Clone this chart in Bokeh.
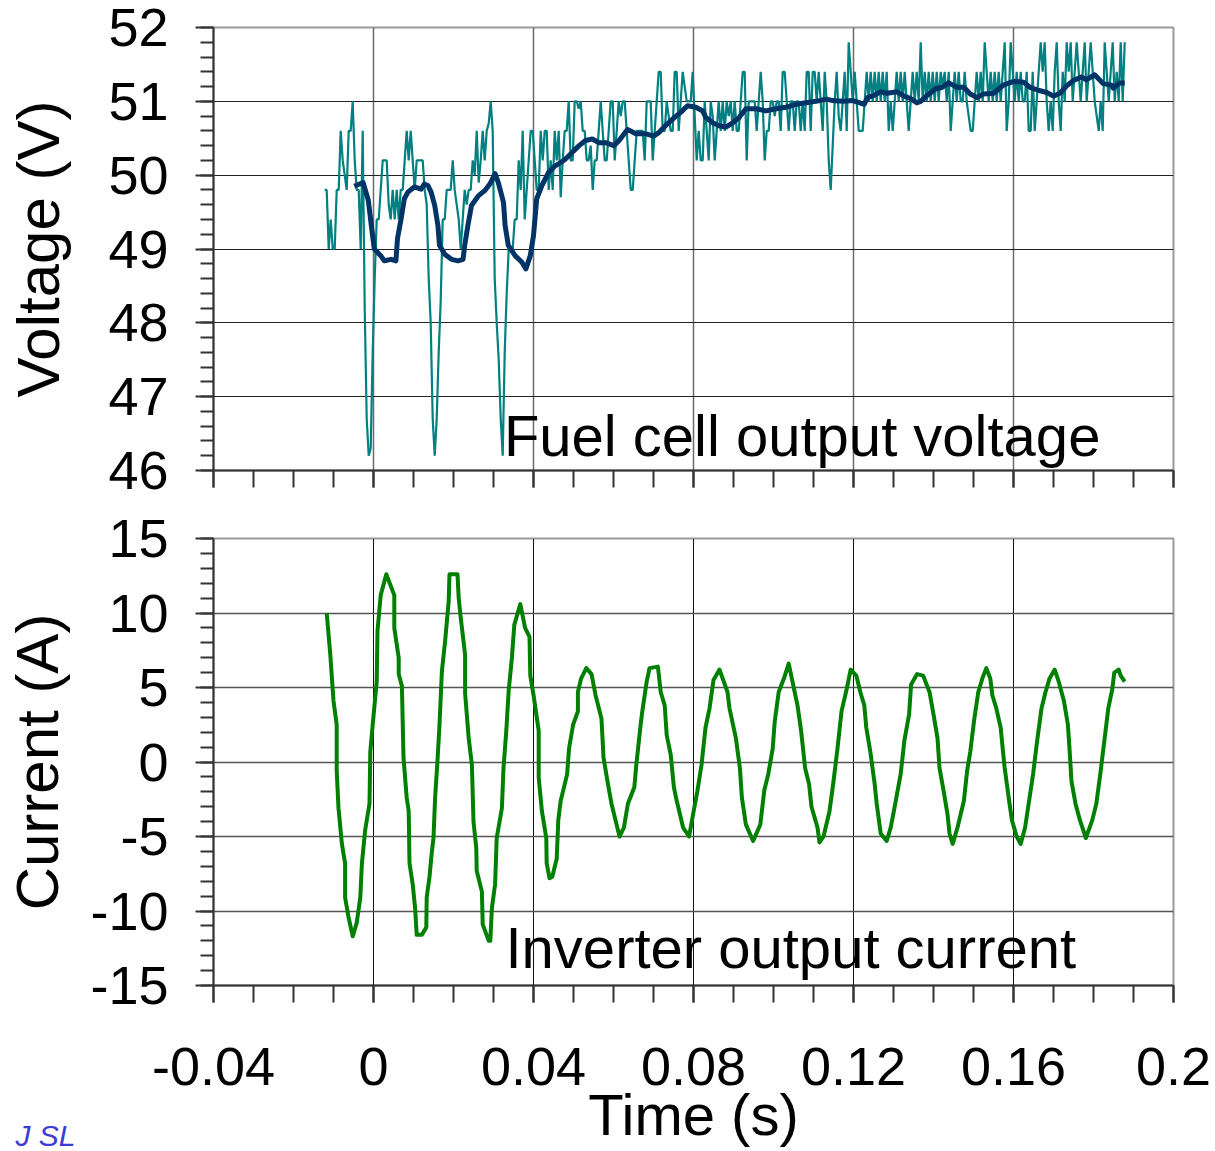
from bokeh.plotting import figure
from bokeh.layouts import column
from bokeh.models import FixedTicker, Label, Title
from bokeh.embed import file_html
from bokeh.resources import INLINE

# ---------------- data ----------------
# Fuel cell output voltage, raw samples (V); sampled from t0 with step dt
fc_raw_t0 = -0.0122
fc_raw_dt = 0.0005
fc_raw_v = [
    49.8, 49.8, 49.0, 49.4, 49.0, 49.0, 49.8, 49.8, 50.6, 50.2,
    50.0, 49.8, 50.6, 50.6, 51.0, 50.2, 49.8, 49.8, 49.0, 50.6,
    48.2, 46.7, 46.2, 46.3, 47.6, 48.6, 49.4, 49.4, 49.8, 50.2,
    50.2, 50.2, 49.6, 49.4, 49.8, 49.4, 49.8, 49.4, 49.8, 49.8,
    50.2, 50.6, 50.2, 50.6, 50.2, 49.8, 50.2, 50.2, 50.2, 50.2,
    49.8, 49.6, 48.6, 48.0, 46.7, 46.2, 46.7, 47.6, 48.3, 49.4,
    49.4, 49.8, 49.8, 49.8, 50.2, 49.8, 49.6, 49.4, 49.0, 49.4,
    49.8, 49.6, 49.8, 49.8, 50.2, 50.0, 50.6, 49.9, 50.2, 50.6,
    50.2, 50.6, 50.7, 51.0, 50.6, 48.6, 48.0, 47.5, 46.7, 46.2,
    47.6, 48.4, 49.0, 49.0, 49.0, 49.4, 49.4, 50.2, 49.8, 50.6,
    49.4, 49.8, 50.2, 50.6, 50.6, 50.2, 49.8, 49.8, 50.6, 50.2,
    50.6, 50.6, 49.8, 50.2, 49.8, 50.6, 50.2, 50.6, 49.7, 50.2,
    50.6, 50.6, 51.0, 50.2, 50.2, 51.0, 51.0, 50.9, 51.0, 50.6,
    50.6, 50.2, 50.2, 50.4, 49.8, 50.2, 50.2, 50.6, 51.0, 50.6,
    50.2, 50.2, 50.6, 51.0, 51.0, 50.2, 50.6, 51.0, 50.8, 51.0,
    51.0, 50.6, 50.2, 49.8, 49.8, 50.2, 50.6, 50.6, 50.6, 50.6,
    50.2, 51.0, 51.0, 51.0, 50.2, 50.6, 51.0, 51.4, 51.4, 50.6,
    50.6, 51.0, 50.8, 50.6, 50.6, 51.4, 51.4, 50.6, 51.0, 51.4,
    51.2, 51.0, 51.0, 51.0, 51.4, 50.8, 50.2, 50.6, 50.2, 50.2,
    51.0, 50.6, 50.2, 51.0, 50.8, 50.2, 50.6, 51.0, 50.6, 51.0,
    50.6, 51.0, 50.8, 51.0, 50.6, 51.0, 50.6, 50.6, 51.0, 51.4,
    51.4, 50.2, 51.0, 51.0, 51.0, 51.0, 50.6, 51.0, 51.4, 51.0,
    50.2, 50.6, 50.6, 51.0, 51.0, 50.8, 51.0, 51.0, 50.6, 51.4,
    51.4, 51.0, 50.6, 51.0, 51.0, 50.6, 51.0, 51.0, 50.6, 51.0,
    50.6, 51.4, 51.4, 50.6, 51.4, 51.4, 51.0, 51.4, 51.0, 50.6,
    51.4, 51.0, 50.2, 49.8, 50.4, 51.0, 51.4, 50.8, 50.6, 51.0,
    51.4, 50.6, 51.8, 51.4, 51.0, 51.4, 51.0, 50.6, 50.6, 50.6,
    51.0, 51.4, 51.0, 51.4, 51.0, 51.4, 51.0, 51.4, 51.0, 51.4,
    51.0, 51.4, 50.6, 51.0, 50.6, 51.0, 51.4, 51.0, 51.4, 51.0,
    51.4, 51.0, 50.6, 51.0, 51.4, 51.0, 51.4, 51.0, 51.8, 51.0,
    51.4, 51.0, 51.4, 51.0, 51.4, 51.0, 51.4, 51.0, 51.4, 51.2,
    51.4, 51.0, 51.4, 50.6, 51.0, 51.4, 51.0, 51.4, 51.0, 51.0,
    51.4, 51.0, 50.8, 50.6, 50.6, 51.0, 51.4, 51.0, 51.4, 51.0,
    51.8, 51.4, 51.0, 51.4, 51.0, 51.4, 51.0, 51.4, 51.0, 51.4,
    51.8, 50.6, 51.0, 51.8, 51.4, 51.0, 51.4, 51.0, 51.4, 51.0,
    51.0, 51.4, 50.6, 50.6, 51.4, 50.6, 51.0, 51.4, 51.8, 51.4,
    51.8, 51.0, 50.6, 51.0, 50.6, 51.4, 51.8, 51.0, 50.6, 51.4,
    51.0, 51.8, 51.4, 51.8, 51.0, 51.4, 51.8, 51.4, 51.0, 51.4,
    51.8, 51.0, 51.4, 51.8, 51.4, 51.0, 50.8, 50.6, 51.0, 50.6,
    51.8, 51.4, 51.0, 51.4, 51.8, 51.0, 51.4, 51.0, 51.8, 51.0,
    51.8,
]
fc_raw_t = [fc_raw_t0 + fc_raw_dt * i for i in range(len(fc_raw_v))]

# Fuel cell output voltage, averaged (V)
fc_avg_t = [
    -0.0048, -0.0026, -0.0013, -0.0005, 0.0002, 0.0018, 0.0027, 0.0044, 0.0056, 0.0060,
    0.0069, 0.0077, 0.0086, 0.0102, 0.0119, 0.0127, 0.0136, 0.0144, 0.0153, 0.0161,
    0.0165, 0.0178, 0.0195, 0.0211, 0.0224, 0.0228, 0.0236, 0.0245, 0.0262, 0.0278,
    0.0291, 0.0304, 0.0312, 0.0325, 0.0329, 0.0337, 0.0354, 0.0371, 0.0381, 0.0392,
    0.0400, 0.0408, 0.0421, 0.0438, 0.0455, 0.0468, 0.0480, 0.0497, 0.0514, 0.0530,
    0.0547, 0.0564, 0.0580, 0.0601, 0.0614, 0.0635, 0.0656, 0.0681, 0.0701, 0.0714,
    0.0730, 0.0752, 0.0768, 0.0785, 0.0806, 0.0823, 0.0831, 0.0848, 0.0864, 0.0881,
    0.0898, 0.0914, 0.0931, 0.0956, 0.0981, 0.1006, 0.1031, 0.1056, 0.1081, 0.1106,
    0.1132, 0.1148, 0.1173, 0.1198, 0.1210, 0.1227, 0.1235, 0.1251, 0.1268, 0.1284,
    0.1309, 0.1326, 0.1342, 0.1359, 0.1368, 0.1384, 0.1405, 0.1422, 0.1438, 0.1459,
    0.1476, 0.1492, 0.1509, 0.1525, 0.1550, 0.1575, 0.1600, 0.1625, 0.1641, 0.1662,
    0.1683, 0.1700, 0.1716, 0.1733, 0.1749, 0.1770, 0.1782, 0.1803, 0.1824, 0.1845,
    0.1849, 0.1865, 0.1878,
]
fc_avg_v = [
    49.85, 49.90, 49.66, 49.30, 49.00, 48.91, 48.84, 48.86, 48.84, 49.14,
    49.41, 49.68, 49.77, 49.84, 49.81, 49.88, 49.86, 49.77, 49.59, 49.32,
    49.05, 48.93, 48.86, 48.84, 48.86, 49.05, 49.32, 49.59, 49.72, 49.79,
    49.88, 50.02, 49.90, 49.63, 49.32, 49.05, 48.91, 48.82, 48.73, 48.91,
    49.18, 49.68, 49.86, 50.04, 50.13, 50.17, 50.22, 50.31, 50.40, 50.47,
    50.49, 50.44, 50.44, 50.40, 50.47, 50.62, 50.56, 50.56, 50.53, 50.58,
    50.67, 50.78, 50.85, 50.94, 50.92, 50.87, 50.78, 50.71, 50.67, 50.65,
    50.71, 50.78, 50.90, 50.90, 50.87, 50.90, 50.92, 50.96, 50.98, 51.00,
    51.03, 51.01, 51.00, 51.01, 50.99, 50.96, 51.05, 51.08, 51.13, 51.11,
    51.13, 51.07, 51.04, 50.98, 51.00, 51.08, 51.17, 51.19, 51.25, 51.19,
    51.19, 51.10, 51.05, 51.10, 51.11, 51.22, 51.27, 51.26, 51.19, 51.15,
    51.12, 51.07, 51.11, 51.21, 51.28, 51.33, 51.29, 51.36, 51.24, 51.22,
    51.18, 51.25, 51.25,
]

# Inverter output current (A)
cur_t = [
    -0.0117, -0.0108, -0.0100, -0.0092, -0.0092, -0.00875, -0.0079, -0.0071, -0.0071, -0.00625,
    -0.0052, -0.0042, -0.0033, -0.0029, -0.0021, -0.0010, -0.0008, -0.0002, 0.0008, 0.0010,
    0.0018, 0.0032, 0.0042, 0.0052, 0.0052, 0.0063, 0.0063, 0.0071, 0.0075, 0.0083,
    0.0088, 0.0090, 0.0098, 0.0104, 0.0108, 0.0121, 0.0132, 0.0133, 0.0140, 0.0146,
    0.0150, 0.0154, 0.0160, 0.0165, 0.0171, 0.0179, 0.0188, 0.0190, 0.0210, 0.0213,
    0.0218, 0.0229, 0.0229, 0.0238, 0.0246, 0.0250, 0.0257, 0.0258, 0.0271, 0.0273,
    0.0288, 0.0292, 0.0296, 0.0304, 0.0308, 0.0321, 0.0325, 0.0332, 0.0338, 0.0346,
    0.0352, 0.0367, 0.0379, 0.0390, 0.0392, 0.0400, 0.0413, 0.0413, 0.0421, 0.0432,
    0.0433, 0.0440, 0.0447, 0.0458, 0.0462, 0.0468, 0.0484, 0.0489, 0.0499, 0.0511,
    0.0511, 0.0519, 0.0532, 0.0545, 0.0555, 0.0570, 0.0575, 0.0585, 0.0595, 0.0605,
    0.0615, 0.0626, 0.0636, 0.0652, 0.0657, 0.0667, 0.0672, 0.0683, 0.0690, 0.0711,
    0.0718, 0.0728, 0.0733, 0.0743, 0.0751, 0.0758, 0.0774, 0.0789, 0.0799, 0.0810,
    0.0820, 0.0830, 0.0840, 0.0850, 0.0865, 0.0885, 0.0890, 0.0906, 0.0916, 0.0921,
    0.0931, 0.0949, 0.0967, 0.0977, 0.0987, 0.0998, 0.1003, 0.1013, 0.1026, 0.1038,
    0.1049, 0.1060, 0.1069, 0.1079, 0.1089, 0.1095, 0.1110, 0.1115, 0.1125, 0.1140,
    0.1150, 0.1160, 0.1170, 0.1183, 0.1193, 0.1207, 0.1217, 0.1227, 0.1232, 0.1242,
    0.1253, 0.1258, 0.1268, 0.1283, 0.1293, 0.1303, 0.1318, 0.1327, 0.1339, 0.1344,
    0.1359, 0.1374, 0.1390, 0.1400, 0.1410, 0.1415, 0.1425, 0.1435, 0.1440, 0.1448,
    0.1460, 0.1476, 0.1484, 0.1492, 0.1502, 0.1512, 0.1522, 0.1532, 0.1542, 0.1547,
    0.1557, 0.1568, 0.1573, 0.1578, 0.1588, 0.1596, 0.1608, 0.1618, 0.1629, 0.1639,
    0.1649, 0.1659, 0.1670, 0.1680, 0.1690, 0.1703, 0.1713, 0.1726, 0.1736, 0.1740,
    0.1745, 0.1755, 0.1766, 0.1781, 0.1797, 0.1807, 0.1817, 0.1827, 0.1837, 0.1847,
    0.1852, 0.1863, 0.1868, 0.1878,
]
cur_i = [
    10.0, 7.2, 4.1, 2.5, -0.6, -3.1, -5.5, -6.8, -9.1, -10.4,
    -11.7, -10.8, -9.1, -6.8, -4.6, -2.8, 0.7, 2.5, 5.4, 8.8,
    11.2, 12.6, 11.9, 11.2, 9.0, 7.0, 5.9, 5.1, 0.3, -2.4,
    -3.3, -6.8, -8.2, -9.8, -11.6, -11.6, -11.1, -9.1, -7.7, -6.0,
    -5.1, -2.4, 0.1, 2.5, 6.1, 8.1, 10.8, 12.6, 12.6, 11.0,
    9.7, 7.2, 4.6, 1.6, -0.2, -4.0, -5.8, -7.3, -8.7, -10.9,
    -12.0, -12.0, -9.8, -8.2, -5.1, -3.1, -0.4, 2.1, 4.8, 7.0,
    9.2, 10.6, 9.0, 8.4, 5.8, 4.5, 2.1, -1.05, -3.3, -5.1,
    -6.8, -7.8, -7.7, -6.5, -3.9, -2.6, -0.83, 0.94, 2.5, 3.4,
    4.7, 5.6, 6.3, 5.9, 4.5, 2.9, 0.3, -1.3, -2.8, -3.9,
    -5.0, -4.4, -2.8, -1.7, -0.2, 2.3, 3.4, 5.4, 6.3, 6.4,
    4.7, 3.8, 1.8, 0.5, -1.7, -2.6, -4.4, -5.0, -3.5, -1.9,
    -0.2, 2.3, 3.6, 5.5, 6.2, 4.7, 3.6, 1.6, -0.4, -2.4,
    -4.2, -5.3, -4.2, -1.9, -0.8, 0.9, 2.7, 4.7, 5.6, 6.6,
    5.2, 3.8, 2.1, -0.4, -1.5, -3.0, -4.4, -5.4, -5.0, -3.3,
    -1.3, 0.9, 3.4, 4.9, 6.2, 5.8, 4.7, 3.8, 2.3, 0.7,
    -1.5, -2.8, -4.8, -5.3, -4.4, -3.0, -0.8, 1.4, 3.2, 5.2,
    5.9, 5.8, 4.7, 3.2, 1.6, -0.4, -1.9, -3.5, -4.8, -5.5,
    -4.4, -2.6, -0.6, 0.7, 2.9, 4.7, 5.6, 6.3, 5.6, 4.5,
    3.6, 2.3, 0.9, -0.4, -2.4, -3.9, -5.0, -5.5, -4.4, -2.6,
    -0.8, 1.4, 3.6, 4.7, 5.6, 6.2, 5.4, 4.1, 2.5, 0.9,
    -1.3, -2.8, -3.9, -5.1, -3.9, -2.8, -0.8, 1.4, 3.6, 4.9,
    6.0, 6.2, 5.8, 5.4,
]

# axes
x_ticks = [-0.04, 0.0, 0.04, 0.08, 0.12, 0.16, 0.2]
x_tick_labels = ["-0.04", "0", "0.04", "0.08", "0.12", "0.16", "0.2"]
v_ticks = [46, 47, 48, 49, 50, 51, 52]
v_tick_labels = ["46", "47", "48", "49", "50", "51", "52"]
i_ticks = [-15, -10, -5, 0, 5, 10, 15]
i_tick_labels = ["-15", "-10", "-5", "0", "5", "10", "15"]

FONT = "Liberation Sans"
TEAL = "#008080"
NAVY = "#003366"
GREEN = "#008000"

x_minor = [round(-0.04 + 0.01 * k, 4) for k in range(25)]
v_minor = [round(46 + 0.2 * k, 4) for k in range(31)]
i_minor = [-15 + k for k in range(31)]


def style(p, label_standoff):
    p.background_fill_color = "white"
    p.border_fill_color = "white"
    p.outline_line_color = "#9a9a9a"
    p.outline_line_width = 2
    for ax in (p.xaxis[0], p.yaxis[0]):
        ax.axis_line_color = "#333333"
        ax.axis_line_width = 2
        ax.major_tick_line_color = "#333333"
        ax.major_tick_line_width = 2
        ax.minor_tick_line_color = "#333333"
        ax.minor_tick_line_width = 2
        ax.major_tick_in = 0
        ax.minor_tick_in = 0
        ax.major_label_text_font = FONT
        ax.major_label_text_font_size = "54px"
        ax.major_label_text_color = "black"
        ax.axis_label_text_font = FONT
        ax.axis_label_text_font_style = "normal"
        ax.axis_label_text_color = "black"
    p.xaxis.major_tick_out = 17
    p.xaxis.minor_tick_out = 17
    p.yaxis.major_tick_out = 18
    p.yaxis.minor_tick_out = 13
    p.yaxis.major_label_standoff = 27
    p.yaxis.axis_label_text_font_size = "60px"
    p.yaxis.axis_label_standoff = label_standoff


# ---------------- top: voltage ----------------
p1 = figure(width=1215, height=492, x_range=(-0.04, 0.2), y_range=(46, 52),
            output_backend="svg", toolbar_location=None,
            min_border_left=210, min_border_right=40, min_border_top=27,
            min_border_bottom=22)
style(p1, 33)
p1.xaxis.ticker = FixedTicker(ticks=x_ticks, minor_ticks=x_minor)
p1.yaxis.ticker = FixedTicker(ticks=v_ticks, minor_ticks=v_minor)
p1.yaxis.major_label_overrides = dict(zip(v_ticks, v_tick_labels))
p1.xaxis.major_label_text_font_size = "1px"
p1.xaxis.major_label_text_color = None
p1.xaxis.major_label_standoff = 0
p1.yaxis.axis_label = "Voltage (V)"
p1.xgrid.grid_line_color = "#6a6a6a"
p1.xgrid.grid_line_width = 1.5
p1.ygrid.grid_line_color = "#222222"
p1.ygrid.grid_line_width = 1

p1.line(fc_raw_t, fc_raw_v, line_color=TEAL, line_width=2.2)
p1.line(fc_avg_t, fc_avg_v, line_color=NAVY, line_width=5, line_join="round")
p1.add_layout(Label(x=0.0326, y=46.474, text="Fuel cell output voltage",
                    text_font=FONT, text_font_size="58px", text_color="black",
                    text_baseline="alphabetic"))

# ---------------- bottom: current ----------------
p2 = figure(width=1215, height=659, x_range=(-0.04, 0.2), y_range=(-15, 15),
            output_backend="svg", toolbar_location=None,
            min_border_left=213, min_border_right=42, min_border_top=46,
            min_border_bottom=166)
style(p2, 16)
p2.xaxis.ticker = FixedTicker(ticks=x_ticks, minor_ticks=x_minor)
p2.yaxis.ticker = FixedTicker(ticks=i_ticks, minor_ticks=i_minor)
p2.xaxis.major_label_overrides = dict(zip(x_ticks, x_tick_labels))
p2.yaxis.major_label_overrides = dict(zip(i_ticks, i_tick_labels))
p2.xaxis.major_label_standoff = 45
p2.xaxis.axis_label = "Time (s)"
p2.xaxis.axis_label_text_font_size = "58px"
p2.xaxis.axis_label_standoff = -6
p2.yaxis.axis_label = "Current (A)"
p2.xgrid.grid_line_color = "#111111"
p2.xgrid.grid_line_width = 1
p2.ygrid.grid_line_color = "#555555"
p2.ygrid.grid_line_width = 1.5

p2.line(cur_t, cur_i, line_color=GREEN, line_width=4, line_join="round")
p2.add_layout(Label(x=0.033, y=-12.42, text="Inverter output current",
                    text_font=FONT, text_font_size="58px", text_color="black",
                    text_baseline="alphabetic"))

# small signature text in the bottom-left corner, placed as a title strip
sig = Title(text="J SL", align="left", vertical_align="top", offset=-198,
            text_font=FONT, text_font_size="30px", text_font_style="italic",
            text_color="#3c3cd6")
try:
    sig.standoff = -62
except Exception:
    pass
p2.add_layout(sig, "below")

layout = column(p1, p2, spacing=0)
open("out.html", "w").write(file_html(layout, INLINE))
